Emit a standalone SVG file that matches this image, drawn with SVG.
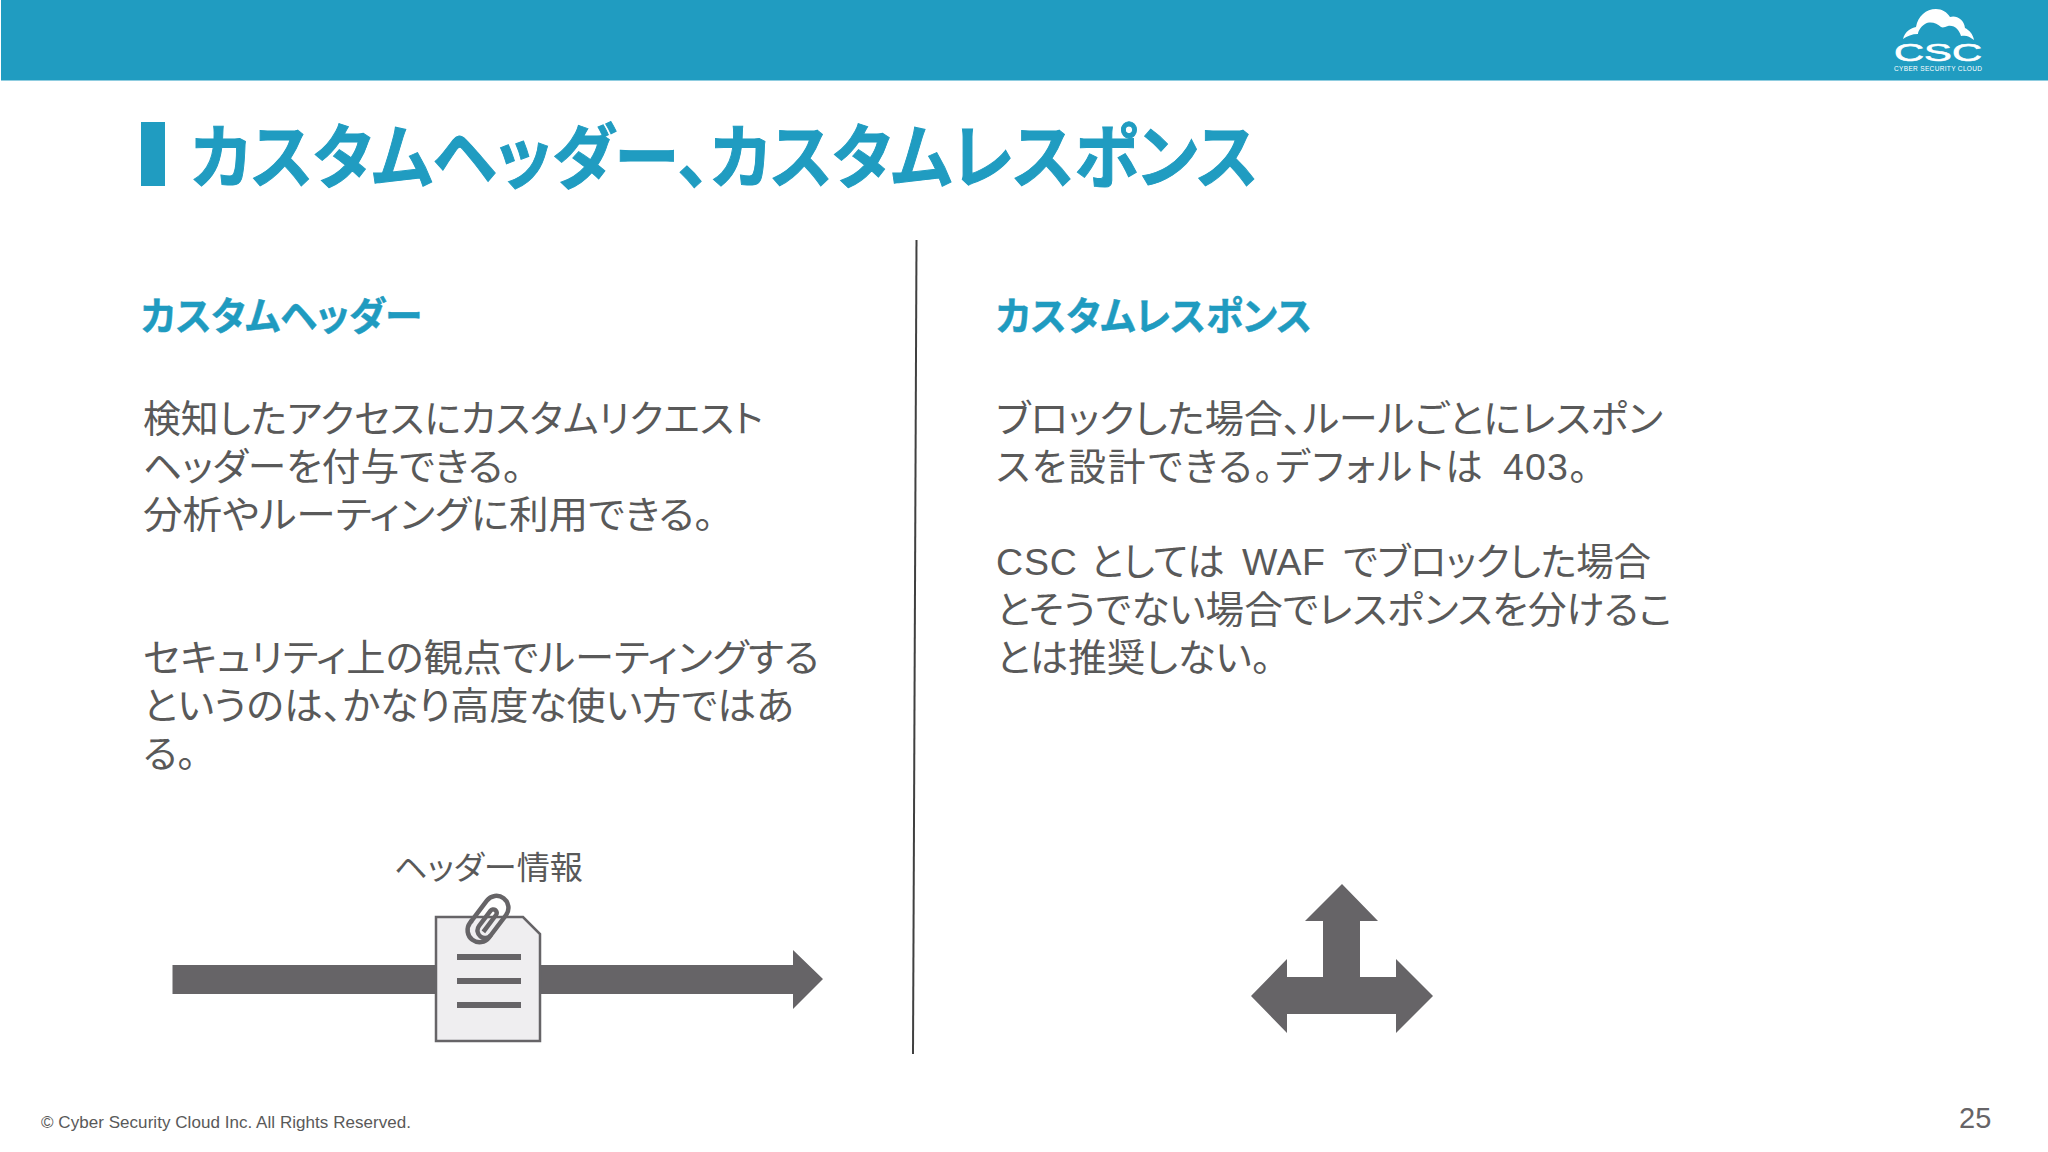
<svg xmlns="http://www.w3.org/2000/svg" width="2048" height="1152" viewBox="0 0 2048 1152">
<style>
text{font-family:"Liberation Sans","Noto Sans CJK JP",sans-serif;font-feature-settings:"palt"}
.b{font-size:37.500px;fill:#595959}
.h{font-size:39px;font-weight:700;fill:#1f9bc0;stroke:#1f9bc0;stroke-width:.5px}
.g{fill:#666467}
</style>
<rect width="2048" height="1152" fill="#fff"/>
<g id="header">
<rect x="1" y="0" width="2047" height="80.500" fill="#209cc1"/>
<g id="logo">
<path fill="#fff" d="M1903 39C1905 31 1911 28 1916 27C1918 16 1926 9 1936 9C1942 9 1947 12 1950 17C1956 15 1964 19 1965 28C1969 30 1973 34 1974 40C1969 36 1966 35 1961 36C1959 30 1955 25 1948 26C1945 27 1943 28 1941 27C1937 23 1930 21 1925 24C1920 27 1918 32 1918 34C1912 34 1907 36 1903 39Z"/>
<text x="1894" y="61" font-size="24" fill="#fff" stroke="#fff" stroke-width=".6" textLength="88" lengthAdjust="spacingAndGlyphs">CSC</text>
<text x="1894" y="71" font-size="6.500" fill="#fff" textLength="88">CYBER SECURITY CLOUD</text>
</g>
</g>
<g id="title">
<rect x="141" y="122" width="24" height="64" fill="#209cc1"/>
<text x="191" y="182.500" font-size="70" font-weight="700" fill="#209cc1" stroke="#209cc1" stroke-width="1" textLength="1067" lengthAdjust="spacingAndGlyphs">カスタムヘッダー、カスタムレスポンス</text>
</g>
<g id="connectors">
<line x1="916.500" y1="240" x2="913" y2="1054" stroke="#404040" stroke-width="2"/>
</g>
<g id="left-text">
<text class="h" x="141" y="330" textLength="281" lengthAdjust="spacingAndGlyphs">カスタムヘッダー</text>
<text class="b" x="143" y="432" textLength="620" lengthAdjust="spacingAndGlyphs">検知したアクセスにカスタムリクエスト</text>
<text class="b" x="143" y="480" textLength="379" lengthAdjust="spacingAndGlyphs">ヘッダーを付与できる。</text>
<text class="b" x="143" y="528" textLength="571" lengthAdjust="spacingAndGlyphs">分析やルーティングに利用できる。</text>
<text class="b" x="143" y="671" textLength="676" lengthAdjust="spacingAndGlyphs">セキュリティ上の観点でルーティングする</text>
<text class="b" x="143" y="719" textLength="651" lengthAdjust="spacingAndGlyphs">というのは、かなり高度な使い方ではあ</text>
<text class="b" x="143" y="767" textLength="53" lengthAdjust="spacingAndGlyphs">る。</text>
</g>
<g id="right-text">
<text class="h" x="996" y="330" textLength="316" lengthAdjust="spacingAndGlyphs">カスタムレスポンス</text>
<text class="b" x="996" y="432" textLength="667" lengthAdjust="spacingAndGlyphs">ブロックした場合、ルールごとにレスポン</text>
<text class="b" y="480"><tspan x="996" letter-spacing="2.100">スを設計できる。デフォルトは</tspan><tspan x="1503" letter-spacing="1.200">403。</tspan></text>
<text class="b" y="575"><tspan x="996" letter-spacing=".8">CSC</tspan><tspan x="1090">としては</tspan><tspan x="1242" letter-spacing=".5">WAF</tspan><tspan x="1343" letter-spacing="-.2">でブロックした場合</tspan></text>
<text class="b" x="996" y="623" textLength="676" lengthAdjust="spacingAndGlyphs">とそうでない場合でレスポンスを分けるこ</text>
<text class="b" x="996" y="671" textLength="275" lengthAdjust="spacingAndGlyphs">とは推奨しない。</text>
</g>
<g id="header-info">
<text x="394" y="879" font-size="32" fill="#595959" textLength="189" lengthAdjust="spacingAndGlyphs">ヘッダー情報</text>
<path class="g" d="M172.500 965H793V950L823 979L793 1009V994H172.500Z"/>
<path d="M436 917H523L540 934V1041H436Z" fill="#efeef0" stroke="#666467" stroke-width="2.500"/>
<rect class="g" x="457" y="954" width="64" height="6"/>
<rect class="g" x="457" y="978" width="64" height="6"/>
<rect class="g" x="457" y="1002" width="64" height="6"/>
<g transform="rotate(37 488 919)" fill="none" stroke="#666467" stroke-width="4.500">
<path d="M476 932V905A12 12 0 0 1 500 905V930A7.500 7.500 0 0 1 485 930V911A3.500 3.500 0 0 1 492 911V932"/>
<path d="M476 930V933A12 12 0 0 0 500 933V930"/>
</g>
</g>
<g id="branch-arrow">
<path class="g" d="M1342 884L1378 921H1360V977H1396V959L1433 996L1396 1033V1014H1287V1033L1251 996L1287 959V977H1323V921H1305Z"/>
</g>
<g id="footer">
<text x="41" y="1127.500" font-size="17" fill="#595959" textLength="370">© Cyber Security Cloud Inc. All Rights Reserved.</text>
<text x="1959" y="1128" font-size="29" fill="#666467">25</text>
</g>
</svg>
